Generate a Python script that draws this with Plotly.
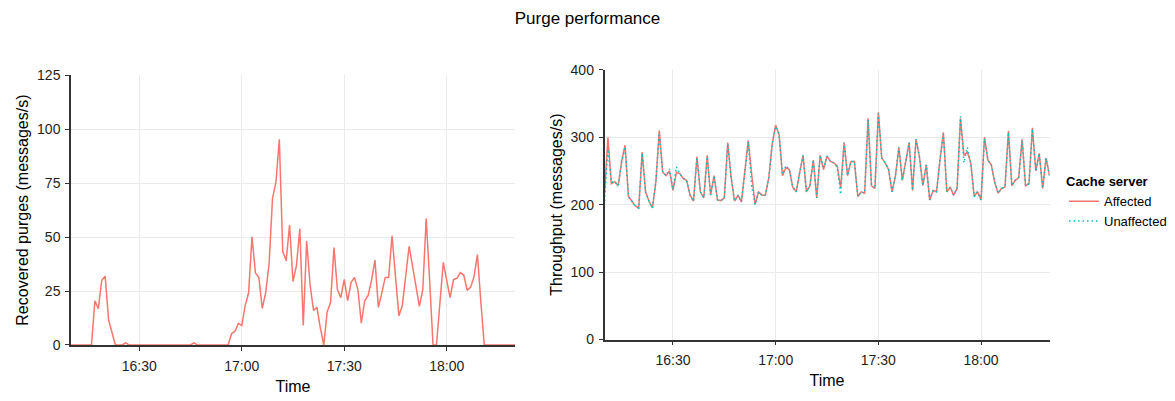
import pandas as pd
import plotly.graph_objects as go

# one sample per minute, 16:10 -> 18:20
times = pd.date_range("2016-03-01 16:10", periods=131, freq="min")

recovered_purges = [
    0, 0, 0, 0, 0, 0, 0, 20.5, 16.8, 30,
    31.9, 11.6, 6.4, 0, 0, 0, 1, 0, 0, 0,
    0, 0, 0, 0, 0, 0, 0, 0, 0, 0,
    0, 0, 0, 0, 0, 0, 1, 0, 0, 0,
    0, 0, 0, 0, 0, 0, 0, 5.2, 6.4, 10,
    9, 18.2, 24.2, 50.1, 33.4, 31.3, 17, 24.2, 37.5, 67.9,
    75.3, 95.3, 43.4, 39, 55.6, 29.4, 36.8, 53.8, 9, 48.2,
    27.9, 16, 17.5, 7.9, 0, 15.3, 19.7, 45.2, 25.7, 21.9,
    30.4, 20.5, 28.9, 31.3, 25.7, 10.1, 20.5, 23, 30, 39.3,
    17.5, 24, 31.3, 31.3, 50.6, 32, 13.5, 18.2, 32, 45.7,
    36.5, 27, 17.9, 25.6, 58.6, 30, 0, 0, 19, 38.3,
    30, 21.9, 30.3, 30.9, 33.5, 32.4, 25.3, 26.8, 31.6, 41.9,
    20, 0, 0, 0, 0, 0, 0, 0, 0, 0,
    0,
]

throughput_affected = [
    215, 300, 231, 234, 228, 264, 288, 212, 205, 198,
    195, 278, 219, 205, 195, 233, 310, 248, 243, 250,
    221, 248, 246, 239, 236, 214, 205, 271, 219, 210,
    273, 214, 243, 207, 206, 210, 292, 240, 205, 214,
    204, 250, 295, 245, 200, 219, 214, 214, 240, 290,
    318, 304, 243, 255, 252, 226, 219, 247, 273, 219,
    228, 266, 210, 273, 252, 272, 264, 262, 257, 225,
    292, 243, 264, 264, 212, 219, 217, 328, 228, 224,
    337, 269, 262, 252, 219, 243, 285, 236, 262, 292,
    221, 297, 271, 228, 259, 207, 221, 219, 266, 307,
    219, 226, 214, 224, 328, 273, 278, 262, 212, 219,
    207, 300, 266, 259, 233, 217, 224, 226, 309, 228,
    236, 240, 297, 228, 231, 314, 250, 276, 224, 269,
    243,
]

throughput_unaffected = [
    205, 282, 233, 234, 228, 262, 286, 212, 205, 198,
    195, 276, 219, 205, 195, 235, 306, 248, 243, 253,
    222, 256, 246, 239, 236, 214, 205, 269, 219, 210,
    271, 214, 243, 207, 206, 210, 290, 240, 205, 214,
    204, 250, 293, 228, 200, 219, 214, 214, 240, 290,
    316, 304, 245, 258, 252, 226, 219, 247, 273, 219,
    228, 266, 210, 273, 255, 272, 264, 262, 255, 215,
    292, 243, 264, 264, 212, 219, 217, 326, 228, 224,
    335, 269, 262, 252, 219, 243, 285, 236, 262, 292,
    221, 297, 271, 228, 259, 207, 221, 219, 266, 305,
    219, 226, 214, 224, 331, 262, 285, 262, 212, 219,
    207, 298, 266, 259, 233, 217, 224, 226, 307, 228,
    236, 240, 295, 228, 231, 312, 250, 276, 224, 269,
    243,
]

assert len(recovered_purges) == len(times)
assert len(throughput_affected) == len(times)
assert len(throughput_unaffected) == len(times)

RED = "#F8766D"
CYAN = "#00BFC4"
FONT = "Liberation Sans, Arial, Helvetica, sans-serif"
W, H = 1175, 401

fig = go.Figure()

fig.add_trace(go.Scatter(
    x=times, y=recovered_purges, mode="lines", name="Affected",
    line=dict(color=RED, width=1.5), showlegend=False,
    xaxis="x", yaxis="y",
))
fig.add_trace(go.Scatter(
    x=times, y=throughput_affected, mode="lines", name="Affected",
    line=dict(color=RED, width=1.5),
    xaxis="x2", yaxis="y2",
))
fig.add_trace(go.Scatter(
    x=times, y=throughput_unaffected, mode="lines", name="Unaffected",
    line=dict(color=CYAN, width=1.5, dash="1.5px,3px"),
    xaxis="x2", yaxis="y2",
))


def px_x(a, b):
    return [a / W, b / W]


def px_y(top, bottom):
    return [1 - bottom / H, 1 - top / H]


axis_common = dict(
    showline=True, linecolor="#333333", linewidth=1.5,
    ticks="outside", ticklen=4, tickcolor="#333333", tickwidth=1,
    showgrid=True, gridcolor="#ebebeb", gridwidth=1,
    zeroline=False,
    tickfont=dict(family=FONT, size=14, color="#1e1e1e"),
    title_font=dict(family=FONT, size=16, color="#000000"),
)

x_common = dict(
    type="date",
    range=[times[0], times[-1]],
    tick0="2016-03-01 16:30", dtick=30 * 60 * 1000,
    tickformat="%H:%M",
    title_text="Time", title_standoff=8,
    ticklabelstandoff=3,
    **axis_common,
)

fig.update_layout(
    width=W, height=H,
    margin=dict(l=0, r=0, t=0, b=0),
    paper_bgcolor="white", plot_bgcolor="white",
    font=dict(family=FONT, size=13, color="#000000"),
    title=dict(
        text="Purge performance", x=0.5, xanchor="center",
        y=1 - 18 / H, yanchor="middle",
        font=dict(family=FONT, size=17, color="#000000"),
    ),
    xaxis=dict(domain=px_x(71, 515), anchor="y", **x_common),
    yaxis=dict(
        domain=px_y(70, 351), anchor="x", range=[0, 125],
        tickvals=[0, 25, 50, 75, 100, 125],
        title_text="Recovered purges (messages/s)", title_standoff=4,
        ticklabelstandoff=2,
        **axis_common,
    ),
    xaxis2=dict(domain=px_x(604.5, 1049.5), anchor="y2", **x_common),
    yaxis2=dict(
        domain=px_y(64.3, 345.3), anchor="x2", range=[0, 400],
        tickvals=[0, 100, 200, 300, 400],
        title_text="Throughput (messages/s)", title_standoff=4,
        ticklabelstandoff=2,
        **axis_common,
    ),
    legend=dict(
        title=dict(text="<b>Cache server</b>",
                   font=dict(family=FONT, size=13, color="#000000")),
        font=dict(family=FONT, size=13, color="#000000"),
        x=1064 / W, xanchor="left", y=1 - 168 / H, yanchor="top",
        bgcolor="rgba(0,0,0,0)", itemwidth=30, tracegroupgap=0,
    ),
    showlegend=True,
)

fig.write_html("out.html")
